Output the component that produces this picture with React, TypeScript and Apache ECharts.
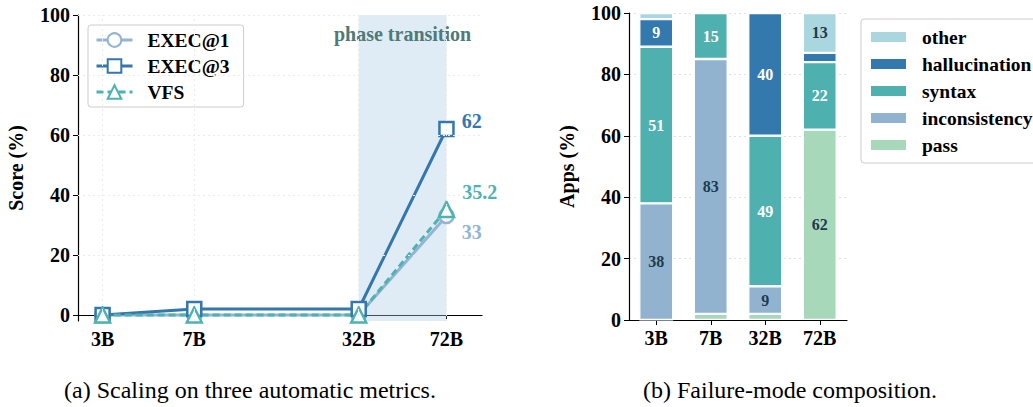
import React, { useEffect, useRef } from "react";
import * as echarts from "echarts";

const sizes = [3, 7, 32, 72];
const sizeLabels = ["3B", "7B", "32B", "72B"];
const exec1 = [0, 0, 0, 33];
const exec3 = [0, 2, 2, 62];
const vfs = [0, 0, 0, 35.2];
const scoreTicks = [0, 20, 40, 60, 80, 100];
const gridValues = [20, 40, 60, 80, 100];

const barCats = ["3B", "7B", "32B", "72B"];
const pass = [0, 2, 2, 62];
const inconsistency = [38, 83, 9, 0];
const syntax = [51, 15, 49, 22];
const hallucination = [9, 0, 40, 3];
const other = [2, 0, 0, 13];

const FONT = "'Liberation Serif', 'Times New Roman', serif";
const C_EXEC1 = "#93b4d2";
const C_EXEC3 = "#3377ac";
const C_VFS = "#4db3b0";

export default function App() {
  const ref = useRef<HTMLDivElement>(null);
  useEffect(() => {
    if (!ref.current) return;
    const chart = echarts.init(ref.current, null, { renderer: "svg" });
    const last = sizes.length - 1;
    const mkLine = (
      name: string,
      vals: number[],
      color: string,
      symbol: string,
      dashed: boolean,
      labelOffset: number[]
    ) => ({
      name,
      type: "line",
      xAxisIndex: 0,
      yAxisIndex: 0,
      symbol,
      symbolSize: symbol === "triangle" ? 15 : 14,
      lineStyle: { color, width: 3, type: dashed ? [7, 4] : "solid" },
      itemStyle: { color: "#fff", borderColor: color, borderWidth: 2.5 },
      data: vals.map((v, i) =>
        i === last
          ? {
              value: [sizes[i], v],
              label: {
                show: true,
                position: "right",
                offset: labelOffset,
                formatter: String(v),
                color,
                fontFamily: FONT,
                fontWeight: "bold",
                fontSize: 20,
              },
            }
          : [sizes[i], v]
      ),
      z: 3,
    });

    const segLabel = (color: string) => ({
      show: true,
      position: "inside",
      color,
      fontFamily: FONT,
      fontWeight: "bold",
      fontSize: 16,
      formatter: (p: any) => (p.value >= 5 ? String(p.value) : ""),
    });
    const mkBar = (name: string, vals: number[], color: string, labelColor: string) => ({
      name,
      type: "bar",
      stack: "all",
      xAxisIndex: 1,
      yAxisIndex: 1,
      barWidth: 34,
      itemStyle: { color, borderColor: "#fff", borderWidth: 1.2 },
      label: segLabel(labelColor),
      data: vals,
    });

    const axisText = { color: "#000", fontFamily: FONT, fontWeight: "bold", fontSize: 20 };

    chart.setOption({
      animation: false,
      grid: [
        { left: 78, top: 15, width: 404, height: 306 },
        { left: 629, top: 13, width: 218, height: 307 },
      ],
      legend: [
        {
          data: ["EXEC@1", "EXEC@3", "VFS"],
          left: 88,
          top: 25,
          orient: "vertical",
          itemWidth: 36,
          itemHeight: 17,
          itemGap: 6,
          padding: [5, 14, 5, 7],
          borderColor: "#cccccc",
          borderWidth: 1,
          borderRadius: 3,
          lineStyle: { width: 3 },
          textStyle: { ...axisText, fontSize: 19.5, padding: [0, 0, 0, 10] },
        },
        {
          data: ["other", "hallucination", "syntax", "inconsistency", "pass"],
          left: 861,
          top: 19,
          orient: "vertical",
          icon: "rect",
          itemWidth: 37,
          itemHeight: 12,
          itemGap: 7,
          padding: [8, 14, 8, 8],
          borderColor: "#cccccc",
          borderWidth: 1,
          borderRadius: 3,
          textStyle: { ...axisText, fontSize: 19.5, padding: [0, 0, 0, 10] },
        },
      ],
      xAxis: [
        {
          gridIndex: 0,
          type: "log",
          logBase: 10,
          min: 2.39,
          max: 100,
          axisLine: { lineStyle: { color: "#000", width: 1.2 } },
          axisTick: { show: true, customValues: sizes, length: 5, lineStyle: { color: "#000" } },
          axisLabel: {
            ...axisText,
            customValues: sizes,
            formatter: (v: number) => sizeLabels[sizes.indexOf(Math.round(v))] ?? "",
            margin: 8,
          },
          splitLine: { show: false },
          minorTick: { show: false },
        },
        {
          gridIndex: 1,
          type: "category",
          data: barCats,
          axisLine: { lineStyle: { color: "#000", width: 1.2 } },
          axisTick: { show: true, alignWithLabel: true, length: 5, lineStyle: { color: "#000" } },
          axisLabel: { ...axisText, margin: 8 },
        },
      ],
      yAxis: [
        {
          gridIndex: 0,
          type: "value",
          min: -2,
          max: 100,
          name: "Score (%)",
          nameLocation: "middle",
          nameGap: 52,
          nameTextStyle: { ...axisText, fontSize: 20 },
          axisLine: { show: true, lineStyle: { color: "#000", width: 1.2 } },
          axisTick: { show: true, customValues: scoreTicks, length: 5, lineStyle: { color: "#000" } },
          axisLabel: { ...axisText, customValues: scoreTicks, margin: 8 },
          splitLine: { show: false },
        },
        {
          gridIndex: 1,
          type: "value",
          min: 0,
          max: 100,
          interval: 20,
          name: "Apps (%)",
          nameLocation: "middle",
          nameGap: 52,
          nameTextStyle: { ...axisText, fontSize: 20 },
          axisLine: { show: true, lineStyle: { color: "#000", width: 1.2 } },
          axisTick: { show: true, length: 5, lineStyle: { color: "#000" } },
          axisLabel: { ...axisText, margin: 8 },
          splitLine: { show: true, lineStyle: { color: "#e0e0e0", type: [2, 3], width: 1 } },
        },
      ],
      series: [
        {
          name: "grid",
          type: "line",
          xAxisIndex: 0,
          yAxisIndex: 0,
          data: [],
          silent: true,
          markLine: {
            silent: true,
            symbol: "none",
            label: { show: false },
            lineStyle: { color: "#ebebeb", type: [2, 3], width: 1 },
            data: [
              ...gridValues.map((v) => ({ yAxis: v })),
              ...sizes.map((v) => ({ xAxis: v })),
            ],
          },
          markArea: {
            silent: true,
            itemStyle: { color: "rgba(170, 205, 228, 0.38)" },
            label: {
              show: true,
              position: "insideTop",
              distance: 9,
              color: "#4f7a78",
              fontFamily: FONT,
              fontWeight: "bold",
              fontSize: 20,
            },
            data: [[{ xAxis: 32, name: "phase transition" }, { xAxis: 72 }]],
          },
          z: 1,
        },
        mkLine("EXEC@1", exec1, C_EXEC1, "circle", false, [2, 16]),
        mkLine("EXEC@3", exec3, C_EXEC3, "rect", false, [2, -8]),
        mkLine("VFS", vfs, C_VFS, "triangle", true, [2, -17]),
        mkBar("pass", pass, "#a8d8ba", "#1e3a4c"),
        mkBar("inconsistency", inconsistency, "#91b3cf", "#1e3a4c"),
        mkBar("syntax", syntax, "#4fb0b0", "#ffffff"),
        mkBar("hallucination", hallucination, "#3479ad", "#ffffff"),
        mkBar("other", other, "#aad7df", "#1e3a4c"),
      ],
      graphic: [
        {
          type: "text",
          x: 250,
          y: 390,
          style: {
            text: "(a) Scaling on three automatic metrics.",
            font: `24px ${FONT}`,
            fill: "#000",
            textAlign: "center",
            textVerticalAlign: "middle",
          },
        },
        {
          type: "text",
          x: 790,
          y: 390,
          style: {
            text: "(b) Failure-mode composition.",
            font: `24px ${FONT}`,
            fill: "#000",
            textAlign: "center",
            textVerticalAlign: "middle",
          },
        },
      ],
    });
    return () => chart.dispose();
  }, []);
  return (
    <div
      ref={ref}
      style={{ position: "absolute", left: 0, top: 0, width: 1033, height: 407, background: "#fff" }}
    />
  );
}
